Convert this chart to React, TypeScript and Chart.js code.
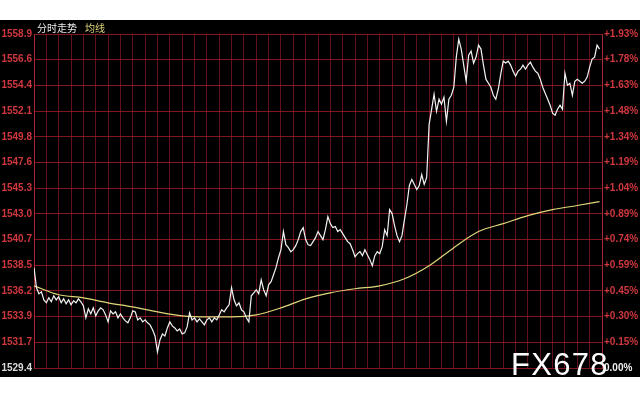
import React, { useEffect, useRef } from "react";
import { Chart, registerables } from "chart.js";

Chart.register(...registerables);

const priceLabels = [
  "1529.4", "1531.7", "1533.9", "1536.2", "1538.5", "1540.7", "1543.0",
  "1545.3", "1547.6", "1549.8", "1552.1", "1554.4", "1556.6", "1558.9",
];
const pctLabels = [
  "0.00%", "+0.15%", "+0.30%", "+0.45%", "+0.59%", "+0.74%", "+0.89%",
  "+1.04%", "+1.19%", "+1.34%", "+1.48%", "+1.63%", "+1.78%", "+1.93%",
];
const yMin = 1529.4;
const yMax = 1558.9;
const xSlots = 230;

const prices = [
  1538.26, 1536.49, 1535.95, 1536.13, 1535.42, 1535.16, 1535.6, 1535.25, 1535.78, 1535.42,
  1535.69, 1535.16, 1535.51, 1535.07, 1535.42, 1534.98, 1535.33, 1535.16, 1535.51, 1535.25,
  1534.89, 1533.83, 1534.63, 1534.18, 1534.71, 1534.01, 1534.45, 1534.71, 1534.54, 1534.09,
  1533.47, 1534.45, 1534.18, 1534.36, 1533.83, 1534.18, 1533.83, 1533.56, 1533.39, 1533.83,
  1534.45, 1534.36, 1533.65, 1533.83, 1533.47, 1533.65, 1533.39, 1533.21, 1532.77, 1532.23,
  1530.82, 1531.88, 1532.41, 1532.23, 1532.94, 1533.47, 1533.12, 1532.94, 1532.68, 1532.85,
  1532.41, 1532.5, 1533.03, 1534.27, 1533.65, 1533.83, 1533.47, 1533.74, 1533.47, 1533.21,
  1533.65, 1533.83, 1533.47, 1533.83, 1533.65, 1534.09, 1534.54, 1534.36, 1534.71, 1534.98,
  1536.49, 1535.42, 1534.89, 1535.16, 1534.54, 1534.36, 1533.83, 1533.47, 1535.78, 1536.04,
  1536.31, 1535.95, 1537.19, 1536.31, 1535.78, 1536.75, 1537.02, 1537.64, 1538.26, 1539.14,
  1539.85, 1541.45, 1540.29, 1540.03, 1539.67, 1539.85, 1540.21, 1540.74, 1541.45, 1541.8,
  1540.74, 1540.29, 1540.21, 1540.56, 1540.91, 1541.45, 1541.09, 1540.74, 1541.62, 1542.77,
  1542.15, 1541.8, 1541.89, 1541.45, 1541.62, 1541.27, 1540.91, 1540.56, 1540.38, 1539.85,
  1539.23, 1539.5, 1539.67, 1539.32, 1539.85, 1539.41, 1538.97, 1538.43, 1539.32, 1539.67,
  1539.5, 1540.12, 1541.62, 1541.09, 1543.39, 1543.04, 1541.98, 1541.09, 1540.56, 1541.09,
  1542.51, 1543.84, 1545.52, 1546.05, 1545.61, 1545.17, 1545.52, 1546.49, 1545.61, 1546.23,
  1550.92, 1552.25, 1553.58, 1552.07, 1553.14, 1552.69, 1553.31, 1551.19, 1553.14, 1553.49,
  1554.2, 1556.86, 1558.45, 1557.57, 1556.15, 1554.73, 1557.03, 1557.39, 1556.33, 1556.86,
  1557.92, 1557.57, 1556.15, 1554.91, 1554.55, 1554.2, 1553.49, 1553.14, 1554.02, 1555.35,
  1556.5, 1556.33, 1556.5, 1556.15, 1555.62, 1555.17, 1555.62, 1555.79, 1556.15, 1555.79,
  1556.15, 1556.41, 1555.97, 1555.62, 1555.44, 1554.91, 1554.2, 1553.67, 1553.14, 1552.61,
  1551.9, 1551.72, 1552.25, 1552.61, 1552.25, 1555.44, 1554.38, 1554.55, 1553.49, 1554.73,
  1554.91, 1554.73, 1554.55, 1554.73, 1555.09, 1555.97, 1556.68, 1556.86, 1557.92, 1557.57,
];

const maIndex = [0, 10, 20, 30, 40, 50, 60, 70, 80, 90, 100, 110, 120, 130, 140, 150, 160, 170, 180, 190, 200, 210, 220, 229];
const maValues = [
  1536.66, 1535.87, 1535.6, 1535.16, 1534.8, 1534.36, 1534.01, 1533.92, 1533.92, 1534.09,
  1534.71, 1535.51, 1536.04, 1536.4, 1536.66, 1537.28, 1538.43, 1540.03, 1541.45, 1542.15,
  1542.86, 1543.39, 1543.75, 1544.1,
];

const RED = "#d0383f";
const HGRID = "rgba(150,26,38,0.85)";
const VGRID = "rgba(125,20,32,0.8)";
const AXIS = "#a82834";

const bgPlugin = {
  id: "bg",
  beforeDraw(chart: any) {
    const ctx = chart.ctx;
    ctx.save();
    ctx.fillStyle = "#ffffff";
    ctx.fillRect(0, 0, chart.width, chart.height);
    ctx.fillStyle = "#000000";
    ctx.fillRect(0, 20, chart.width, 357);
    ctx.restore();
  },
};

const textPlugin = {
  id: "texts",
  afterDraw(chart: any) {
    const ctx = chart.ctx;
    const area = chart.chartArea;
    ctx.save();
    ctx.textBaseline = "middle";
    ctx.textAlign = "left";
    ctx.font = "10px 'Noto Sans CJK SC', sans-serif";
    ctx.fillStyle = "#e8e8e8";
    ctx.fillText("分时走势", area.left + 3, 28);
    ctx.fillStyle = "#e0d67a";
    ctx.fillText("均线", area.left + 51, 28);
    ctx.fillStyle = "#ffffff";
    ctx.font = "31px 'Liberation Sans', Arial, sans-serif";
    ctx.textBaseline = "alphabetic";
    (ctx as any).letterSpacing = "1.3px";
    ctx.fillText("FX678", 511, 375);
    ctx.restore();
  },
};

export default function App() {
  const ref = useRef<HTMLCanvasElement>(null);

  useEffect(() => {
    document.body.style.margin = "0";
    const canvas = ref.current;
    if (!canvas) return;
    const step = (yMax - yMin) / (priceLabels.length - 1);
    const yTicks = priceLabels.map((_, k) => ({ value: yMin + k * step }));
    const xTicks: { value: number }[] = [];
    for (let v = 0; v <= xSlots; v += 5) xTicks.push({ value: v });

    const chart = new Chart(canvas, {
      type: "line",
      data: {
        datasets: [
          {
            data: prices.map((y, i) => ({ x: i, y })),
            borderColor: "#f2f2f2",
            borderWidth: 1.2,
            pointRadius: 0,
            tension: 0,
          },
          {
            data: maIndex.map((x, k) => ({ x, y: maValues[k] })),
            borderColor: "#e0d67a",
            borderWidth: 1.2,
            pointRadius: 0,
            cubicInterpolationMode: "monotone",
          },
        ],
      },
      options: {
        animation: false,
        responsive: false,
        layout: { padding: { top: 34, bottom: 32, left: 0, right: 0 } },
        plugins: { legend: { display: false }, tooltip: { enabled: false } },
        scales: {
          x: {
            type: "linear",
            min: 0,
            max: xSlots,
            afterBuildTicks: (s: any) => {
              s.ticks = xTicks.map((t) => ({ ...t }));
            },
            afterFit: (s: any) => {
              s.height = 0;
            },
            ticks: { display: false },
            grid: { color: VGRID, lineWidth: 1, drawTicks: false },
            border: { display: false },
          },
          y: {
            type: "linear",
            position: "left",
            min: yMin,
            max: yMax,
            afterBuildTicks: (s: any) => {
              s.ticks = yTicks.map((t) => ({ ...t }));
            },
            afterFit: (s: any) => {
              s.width = 34;
            },
            ticks: {
              autoSkip: false,
              padding: 2,
              callback: (_v: any, i: number) => priceLabels[i],
              color: (c: any) => (c.index === 0 ? "#dcdcdc" : RED),
              font: { family: "'Liberation Sans', Arial, sans-serif", size: 10, weight: "bold" },
            },
            grid: { color: HGRID, lineWidth: 1, drawTicks: false },
            border: { display: true, color: AXIS, width: 1 },
          },
          y2: {
            type: "linear",
            position: "right",
            min: yMin,
            max: yMax,
            afterBuildTicks: (s: any) => {
              s.ticks = yTicks.map((t) => ({ ...t }));
            },
            afterFit: (s: any) => {
              s.width = 38;
            },
            ticks: {
              autoSkip: false,
              padding: 2,
              callback: (_v: any, i: number) => pctLabels[i],
              color: (c: any) => (c.index === 0 ? "#f0f0f0" : RED),
              font: { family: "'Liberation Sans', Arial, sans-serif", size: 10, weight: "bold" },
            },
            grid: { display: false, drawTicks: false },
            border: { display: true, color: AXIS, width: 1 },
          },
        },
      } as any,
      plugins: [bgPlugin, textPlugin],
    });
    return () => chart.destroy();
  }, []);

  return (
    <div style={{ width: 640, height: 400 }}>
      <canvas ref={ref} width={640} height={400} style={{ display: "block", width: 640, height: 400 }} />
    </div>
  );
}
